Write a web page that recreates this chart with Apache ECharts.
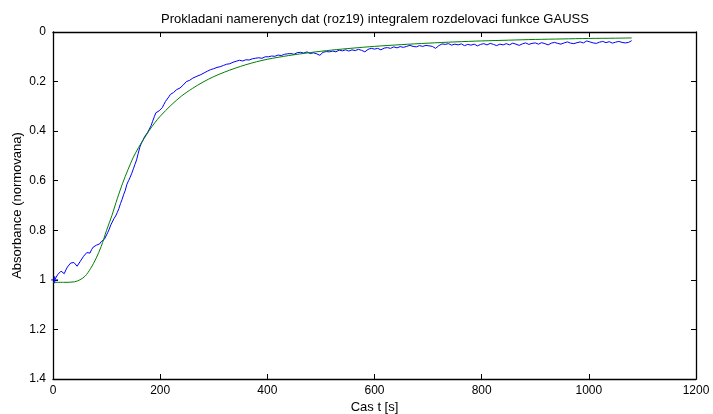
<!DOCTYPE html>
<html>
<head>
<meta charset="utf-8">
<script src="https://cdn.jsdelivr.net/npm/echarts@6/dist/echarts.min.js"></script>
<style>
  html, body { margin: 0; padding: 0; background: #fff; }
  #chart { width: 713px; height: 414px; }
</style>
</head>
<body>
<div id="chart"></div>
<script>
// Measured absorbance (normalised) versus time [s]
const measured = [
  [3,1.0],[6,0.992],[9,0.978],[12,0.985],[15,0.965],[18,0.958],[21,0.975],[24,0.96],[27,0.948],[30,0.94],
  [33,0.932],[36,0.935],[39,0.93],[42,0.938],[45,0.945],[48,0.94],[51,0.925],[54,0.918],[57,0.905],[60,0.898],
  [63,0.89],[66,0.888],[69,0.892],[72,0.878],[75,0.868],[78,0.87],[81,0.86],[84,0.853],[87,0.855],[90,0.846],
  [93,0.84],[96,0.836],[99,0.83],[102,0.81],[105,0.795],[108,0.778],[111,0.77],[114,0.752],[117,0.742],[120,0.728],
  [123,0.712],[126,0.692],[129,0.675],[132,0.655],[135,0.638],[138,0.614],[141,0.6],[144,0.586],[147,0.57],[150,0.552],
  [153,0.534],[156,0.516],[159,0.49],[162,0.465],[165,0.448],[168,0.436],[171,0.422],[174,0.414],[177,0.404],[180,0.398],
  [183,0.378],[186,0.36],[189,0.342],[192,0.326],[195,0.322],[198,0.318],[201,0.316],[204,0.305],[207,0.292],[210,0.28],
  [213,0.272],[216,0.262],[219,0.252],[222,0.246],[225,0.244],[228,0.238],[231,0.232],[234,0.228],[237,0.226],[240,0.22],
  [243,0.214],[246,0.208],[249,0.2],[252,0.194],[255,0.195],[258,0.19],[261,0.186],[264,0.182],[267,0.18],[270,0.178],
  [276,0.172],[282,0.165],[288,0.158],[294,0.152],[300,0.148],[306,0.143],[312,0.14],[318,0.135],[324,0.13],[330,0.128],
  [336,0.122],[342,0.118],[348,0.114],[354,0.117],[360,0.112],[366,0.113],[372,0.108],[378,0.106],[384,0.104],[390,0.106],
  [396,0.1],[402,0.1],[408,0.097],[414,0.098],[420,0.093],[426,0.095],[432,0.09],[438,0.088],[444,0.087],[450,0.09],
  [456,0.083],[462,0.082],[468,0.085],[474,0.08],[480,0.087],[486,0.084],[492,0.088],[498,0.094],[504,0.082],[510,0.079],
  [516,0.08],[522,0.077],[528,0.08],[534,0.073],[540,0.076],[546,0.072],[552,0.077],[558,0.072],[564,0.075],[570,0.07],
  [576,0.074],[582,0.08],[588,0.07],[594,0.066],[600,0.069],[606,0.066],[612,0.072],[618,0.065],[624,0.063],[630,0.066],
  [636,0.06],[642,0.064],[648,0.059],[654,0.062],[660,0.058],[666,0.054],[672,0.058],[678,0.06],[684,0.055],[690,0.058],
  [696,0.054],[702,0.056],[708,0.058],[714,0.066],[720,0.055],[726,0.048],[732,0.05],[738,0.047],[744,0.053],[750,0.049],
  [756,0.052],[762,0.048],[768,0.055],[774,0.05],[780,0.053],[786,0.049],[792,0.056],[798,0.05],[804,0.047],[810,0.052],
  [816,0.046],[822,0.05],[828,0.055],[834,0.049],[840,0.052],[846,0.047],[852,0.052],[858,0.045],[864,0.049],[870,0.054],
  [876,0.048],[882,0.044],[888,0.05],[894,0.046],[900,0.044],[906,0.049],[912,0.043],[918,0.047],[924,0.052],[930,0.045],
  [936,0.042],[942,0.046],[948,0.049],[954,0.044],[960,0.04],[966,0.045],[972,0.047],[978,0.043],[984,0.04],[990,0.044],
  [996,0.036],[1002,0.04],[1008,0.044],[1014,0.046],[1020,0.041],[1026,0.038],[1032,0.043],[1038,0.039],[1044,0.045],[1050,0.041],
  [1056,0.038],[1062,0.042],[1068,0.044],[1074,0.042],[1080,0.035]
];

// Fitted curve: integral of the Gauss distribution function
const fitted = [
  [0,1.01],[20,1.01],[40,1.008],[50,1.0],[60,0.985],[70,0.955],[80,0.915],[90,0.865],[100,0.8],[110,0.74],
  [120,0.672],[130,0.61],[140,0.555],[150,0.505],[160,0.465],[170,0.43],[180,0.396],[190,0.366],[200,0.34],[220,0.296],
  [240,0.258],[260,0.228],[280,0.202],[300,0.18],[320,0.162],[340,0.146],[360,0.132],[380,0.12],[400,0.11],[440,0.095],
  [480,0.083],[520,0.073],[560,0.065],[600,0.058],[650,0.051],[700,0.045],[750,0.04],[800,0.036],[850,0.033],[900,0.03],
  [950,0.028],[1000,0.026],[1050,0.025],[1080,0.024]
];

// Start marker of the measured series
const startPoint = [[3, 1.0]];

const xTicks = { min: 0, max: 1200, interval: 200 };
const yTicks = { min: 0, max: 1.4, interval: 0.2 };

const titleText = 'Prokladani namerenych dat (roz19) integralem rozdelovaci funkce GAUSS';
const xName = 'Cas t [s]';
const yName = 'Absorbance (normovana)';

const font = 'Liberation Sans, Arial, Helvetica, sans-serif';
const axisLine = { show: true, onZero: false, lineStyle: { color: '#000', width: 1.3 } };
const tick = { show: true, inside: true, length: 5, lineStyle: { color: '#000', width: 1 } };
const plainNumber = v => String(Math.round(v * 100) / 100);

const chart = echarts.init(document.getElementById('chart'), null, { renderer: 'canvas' });
chart.setOption({
  animation: false,
  backgroundColor: '#fff',
  title: {
    text: titleText,
    left: 370, top: 8, textAlign: 'center',
    textStyle: { fontFamily: font, fontSize: 13, fontWeight: 'normal', color: '#000' }
  },
  grid: { left: 53, right: 17, top: 32, bottom: 35, containLabel: false, outerBoundsMode: 'none' },
  xAxis: [
    {
      type: 'value', position: 'bottom', ...xTicks,
      name: xName, nameLocation: 'middle', nameGap: 22, nameMoveOverlap: false,
      nameTextStyle: { fontFamily: font, fontSize: 13, color: '#000' },
      axisLine, axisTick: tick, splitLine: { show: false },
      axisLabel: { fontFamily: font, fontSize: 12, color: '#000', margin: 6, formatter: plainNumber }
    },
    {
      type: 'value', position: 'top', ...xTicks,
      axisLine, axisTick: tick, splitLine: { show: false }, axisLabel: { show: false }
    }
  ],
  yAxis: [
    {
      type: 'value', position: 'left', inverse: true, ...yTicks,
      name: yName, nameLocation: 'middle', nameGap: 29, nameRotate: 90, nameMoveOverlap: false,
      nameTextStyle: { fontFamily: font, fontSize: 13, color: '#000' },
      axisLine, axisTick: tick, splitLine: { show: false },
      axisLabel: { fontFamily: font, fontSize: 12, color: '#000', margin: 7, formatter: plainNumber }
    },
    {
      type: 'value', position: 'right', inverse: true, ...yTicks,
      axisLine, axisTick: tick, splitLine: { show: false }, axisLabel: { show: false }
    }
  ],
  series: [
    {
      type: 'line', data: measured, showSymbol: false, symbol: 'none',
      lineStyle: { color: '#0000ff', width: 1 }, z: 2
    },
    {
      type: 'line', data: fitted, showSymbol: false, symbol: 'none', smooth: 0.3,
      lineStyle: { color: '#008000', width: 1 }, z: 3
    },
    {
      type: 'scatter', data: startPoint,
      symbol: 'path://M4,0H6V4H10V6H6V10H4V6H0V4H4Z', symbolSize: 7,
      itemStyle: { color: '#0000ff' }, z: 4
    }
  ]
});
</script>
</body>
</html>
